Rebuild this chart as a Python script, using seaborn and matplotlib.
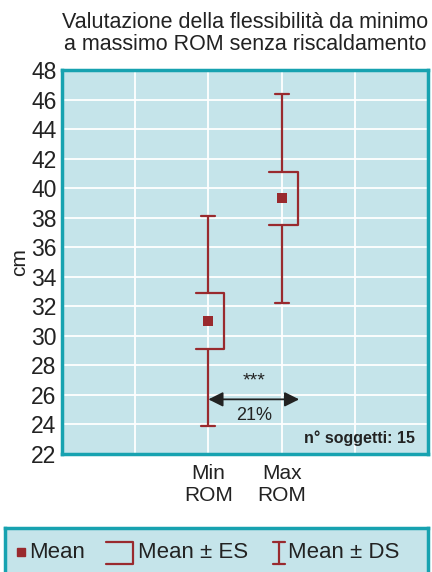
import numpy as np
import pandas as pd
import matplotlib
matplotlib.use("Agg")
import matplotlib.pyplot as plt
import seaborn as sns

# ---- data ----
categories = ["Min\nROM", "Max\nROM"]
means = [31.0, 39.3]
es = [1.9, 1.8]
ds = [7.1, 7.1]
yticks = list(range(22, 49, 2))
title = "Valutazione della flessibilità da minimo\na massimo ROM senza riscaldamento"
diff_label = "21%"
sig_label = "***"
n_label = "n° soggetti: 15"

BG = "#c5e4ea"
TEAL = "#17a2b0"
RED = "#992a2e"
TXT = "#222222"

sns.set_theme(style="whitegrid")
plt.rcParams["font.family"] = ["Liberation Sans", "DejaVu Sans"]

fig = plt.figure(figsize=(4.32, 5.72), dpi=100)
ax = fig.add_axes([0.1435, 0.2063, 0.8472, 0.6713])
ax.set_facecolor(BG)

pos = [2 + i for i in range(len(categories))]
df = pd.DataFrame({"x": pos, "mean": means, "es": es, "ds": ds, "cat": categories})

# DS error bars (I-beam)
for _, r in df.iterrows():
    ax.plot([r.x, r.x], [r["mean"] - r.ds, r["mean"] - r.es], color=RED, lw=1.6, zorder=3)
    ax.plot([r.x, r.x], [r["mean"] + r.es, r["mean"] + r.ds], color=RED, lw=1.6, zorder=3)
    for yv in (r["mean"] - r.ds, r["mean"] + r.ds):
        ax.plot([r.x - 0.095, r.x + 0.095], [yv, yv], color=RED, lw=1.6, zorder=3)
    # ES bracket
    lo, hi = r["mean"] - r.es, r["mean"] + r.es
    ax.plot([r.x - 0.17, r.x + 0.22, r.x + 0.22, r.x - 0.17], [hi, hi, lo, lo],
            color=RED, lw=1.6, zorder=3)

sns.scatterplot(data=df, x="x", y="mean", marker="s", s=42, color=RED,
                edgecolor=RED, linewidth=0, ax=ax, zorder=4, legend=False)

ax.set_xlim(0, 5)
ax.set_ylim(22, 48)
ax.set_xticks([1, 2, 3, 4])
ax.set_xticklabels([""] + categories + [""], fontsize=15, color=TXT, linespacing=1.25)
ax.set_yticks(yticks)
ax.set_yticklabels([str(t) for t in yticks], fontsize=16.5, color=TXT)
ax.tick_params(axis="x", length=0, pad=7)
ax.tick_params(axis="y", length=0, pad=4)
ax.grid(True, color="white", lw=1.3)
ax.set_xlabel("")
ax.set_ylabel("cm", fontsize=15, color=TXT, labelpad=1)
for sp in ax.spines.values():
    sp.set_color(TEAL)
    sp.set_linewidth(2.5)

# arrow with difference
ya = 25.7
ax.annotate("", xy=(3.24, ya), xytext=(2.0, ya),
            arrowprops=dict(arrowstyle="<|-|>", color=TXT, lw=1.3,
                            mutation_scale=22, shrinkA=0, shrinkB=0), zorder=5)
ax.text(2.62, 26.35, sig_label, ha="center", va="bottom", fontsize=14, color=TXT)
ax.text(2.62, 25.2, diff_label, ha="center", va="top", fontsize=13, color=TXT)
ax.text(4.82, 22.55, n_label, ha="right", va="bottom", fontsize=11.5,
        fontweight="bold", color=TXT)

fig.text(0.567, 0.903, title, ha="center", va="bottom", fontsize=15.5,
         color=TXT, linespacing=1.12)

# custom legend box
lax = fig.add_axes([0.0116, -0.01, 0.979, 0.087])
lax.set_facecolor(BG)
lax.set_xlim(5, 428)
lax.set_ylim(577, 528)
lax.set_xticks([]); lax.set_yticks([])
lax.grid(False)
for sp in lax.spines.values():
    sp.set_color(TEAL)
    sp.set_linewidth(2.5)
ly = 552
lax.plot([21], [ly], marker="s", ms=5.5, color=RED, ls="none")
lax.text(29, ly, "Mean", va="center", ha="left", fontsize=16, color=TXT)
lax.plot([106, 133, 133, 106], [542, 542, 563, 563], color=RED, lw=1.6)
lax.text(138, ly, "Mean ± ES", va="center", ha="left", fontsize=16, color=TXT)
lax.plot([279, 279], [542, 563], color=RED, lw=1.6)
lax.plot([273, 285], [542, 542], color=RED, lw=1.6)
lax.plot([273, 285], [563, 563], color=RED, lw=1.6)
lax.text(288, ly, "Mean ± DS", va="center", ha="left", fontsize=16, color=TXT)

fig.savefig("out.png", dpi=100)
